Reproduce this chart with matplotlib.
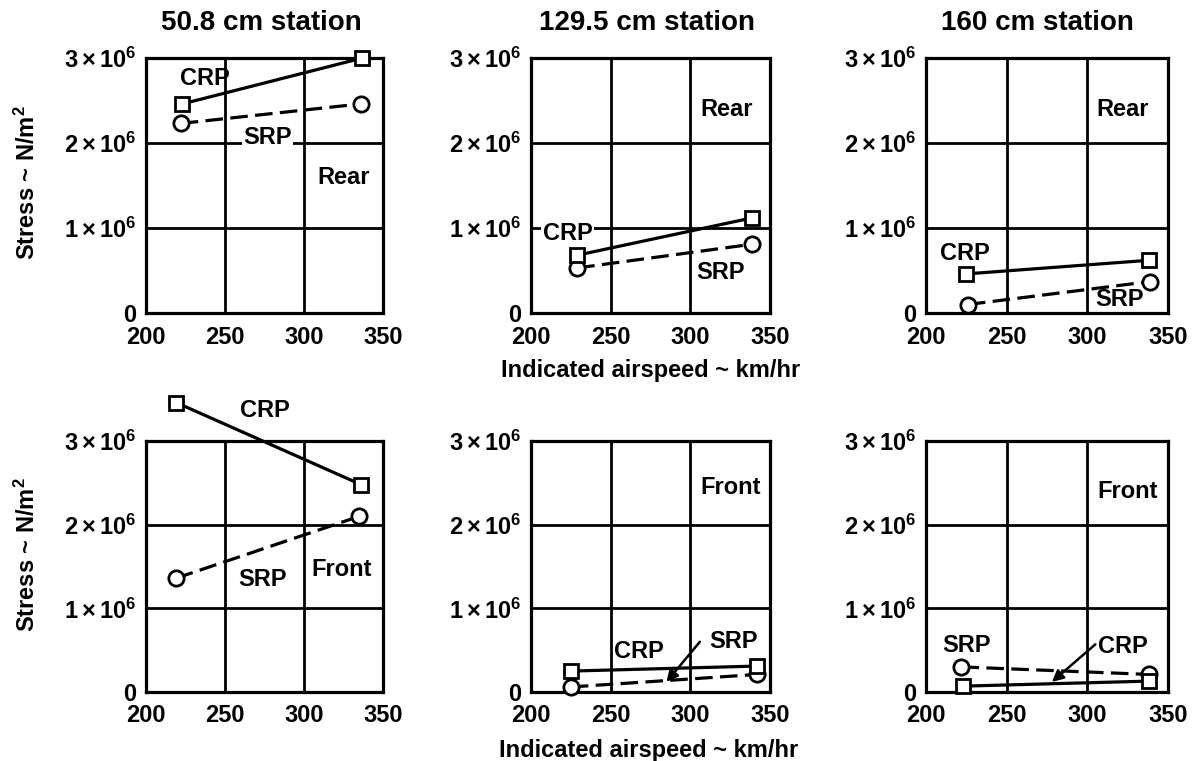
import matplotlib
matplotlib.use("Agg")
import matplotlib.pyplot as plt

plt.rcParams['font.family'] = ['Liberation Sans', 'DejaVu Sans']
plt.rcParams['font.weight'] = 'bold'
plt.rcParams['mathtext.fontset'] = 'custom'
plt.rcParams['mathtext.rm'] = 'Liberation Sans:bold'
plt.rcParams['mathtext.bf'] = 'Liberation Sans:bold'
plt.rcParams['mathtext.it'] = 'Liberation Sans:bold'

# ---------------- data ----------------
stations = ["50.8 cm station", "129.5 cm station", "160 cm station"]
positions = ["Rear", "Front"]
x_ticks = [200, 250, 300, 350]
y_ticks = [0, 1e6, 2e6, 3e6]
y_ticklabels = ["0", r"$1 \times 10^{6}$", r"$2 \times 10^{6}$", r"$3 \times 10^{6}$"]

# airspeed (km/hr) and stress (N/m^2) per panel: [row][col]
crp_speed = [[[223, 337], [229, 339], [225, 338]],
             [[219, 336], [225, 342], [223, 338]]]
crp_stress = [[[2.46e6, 3.00e6], [0.68e6, 1.12e6], [0.46e6, 0.62e6]],
              [[3.46e6, 2.48e6], [0.25e6, 0.31e6], [0.07e6, 0.13e6]]]
srp_speed = [[[222, 336], [229, 339], [226, 339]],
             [[219, 335], [225, 342], [222, 338]]]
srp_stress = [[[2.23e6, 2.46e6], [0.53e6, 0.81e6], [0.10e6, 0.37e6]],
              [[1.36e6, 2.10e6], [0.06e6, 0.21e6], [0.30e6, 0.21e6]]]

# label anchor positions (data coords)
crp_label = [[(237, 2.76e6), (223, 0.94e6), (224, 0.70e6)],
             [(275, 3.37e6), (268, 0.49e6), (322, 0.54e6)]]
srp_label = [[(277, 2.06e6), (319, 0.48e6), (320, 0.16e6)],
             [(274, 1.34e6), (327, 0.60e6), (225, 0.55e6)]]
pos_label = [[(325, 1.59e6), (323, 2.40e6), (322, 2.39e6)],
             [(324, 1.47e6), (325, 2.45e6), (325, 2.40e6)]]
# arrows: (text_end, arrow_tip) for labels that use leader arrows
arrows = {(1, 1): ((306, 0.60e6), (285, 0.12e6)),
          (1, 2): ((305, 0.57e6), (278, 0.12e6))}
# labels that break the grid line behind them
masked = {("SRP", 0, 0), ("CRP", 0, 1)}

# ---------------- layout ----------------
W, H = 1201, 761
fig = plt.figure(figsize=(W / 100, H / 100), dpi=100)

col_px = [(146, 237), (531, 239), (926, 242)]
row_px = [(58, 313), (441, 692)]

for r in range(2):
    top, bot = row_px[r]
    for c in range(3):
        left, width = col_px[c]
        ax = fig.add_axes([left / W, 1 - bot / H, width / W, (bot - top) / H])
        ax.set_xlim(200, 350)
        ax.set_ylim(0, 3e6)
        ax.set_xticks(x_ticks)
        ax.set_yticks(y_ticks)
        ax.set_xticklabels([str(v) for v in x_ticks], fontsize=17, fontweight='bold')
        ax.set_yticklabels(y_ticklabels, fontsize=17)
        ax.tick_params(length=0, pad=7)
        ax.tick_params(axis='x', pad=9)
        for sp in ax.spines.values():
            sp.set_linewidth(2.3)
            sp.set_zorder(2)
        for gx in x_ticks[1:-1]:
            ax.axvline(gx, color='black', lw=2.0, zorder=1)
        for gy in y_ticks[1:-1]:
            ax.axhline(gy, color='black', lw=2.0, zorder=1)

        ax.plot(crp_speed[r][c], crp_stress[r][c], color='black', lw=2.3,
                ls='-', marker='s', ms=10, mfc='white', mec='black', mew=2.0,
                zorder=4, clip_on=False)
        ax.plot(srp_speed[r][c], srp_stress[r][c], color='black', lw=2.3,
                ls=(0, (5.5, 2.3)), marker='o', ms=11, mfc='white', mec='black',
                mew=2.0, zorder=3, clip_on=False)

        for name, pos in (("CRP", crp_label[r][c]), ("SRP", srp_label[r][c])):
            bb = dict(facecolor='white', edgecolor='none', pad=1.0) \
                if (name, r, c) in masked else None
            ax.text(*pos, name, fontsize=17, fontweight='bold',
                    ha='center', va='center', zorder=5, bbox=bb)
        ax.text(*pos_label[r][c], positions[r], fontsize=17, fontweight='bold',
                ha='center', va='center', zorder=5)
        if (r, c) in arrows:
            start, tip = arrows[(r, c)]
            ax.annotate("", xy=tip, xytext=start,
                        arrowprops=dict(arrowstyle='-|>', color='black', lw=1.8,
                                        mutation_scale=17, shrinkA=0, shrinkB=0),
                        zorder=6)

# titles
title_px = [(261, 23), (647, 23), (1037, 23)]
for (tx, ty), s in zip(title_px, stations):
    fig.text(tx / W, 1 - ty / H, s, fontsize=20, fontweight='bold',
             ha='center', va='center')

# y labels
for yc in (183, 555):
    fig.text(27 / W, 1 - yc / H, r"Stress ~ N/m$^{2}$", fontsize=17, fontweight='bold',
             rotation=90, ha='center', va='center')
# x labels
for (xc, yc) in ((651, 370), (649, 750)):
    fig.text(xc / W, 1 - yc / H, "Indicated airspeed ~ km/hr", fontsize=17,
             fontweight='bold', ha='center', va='center')

fig.savefig("out.png", dpi=100)
